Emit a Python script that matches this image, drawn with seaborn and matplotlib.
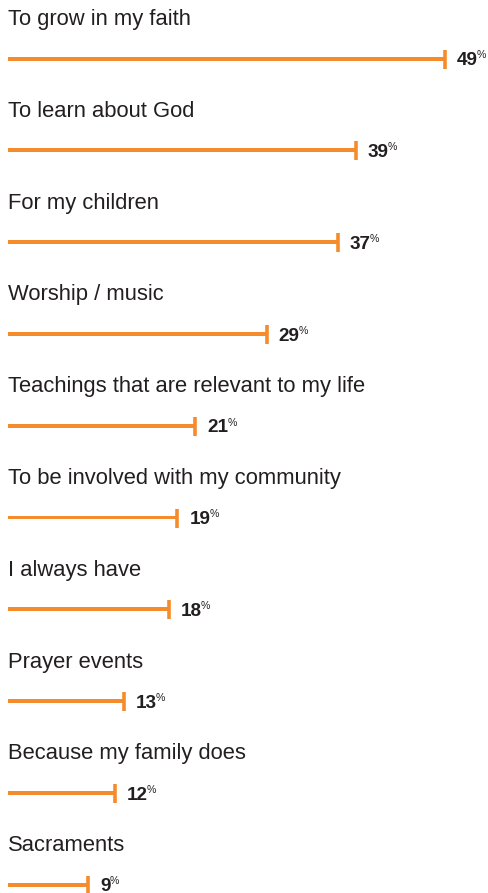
import matplotlib
matplotlib.use("Agg")
import matplotlib.pyplot as plt
import numpy as np
import pandas as pd
import seaborn as sns

reasons = [
    "To grow in my faith",
    "To learn about God",
    "For my children",
    "Worship / music",
    "Teachings that are relevant to my life",
    "To be involved with my community",
    "I always have",
    "Prayer events",
    "Because my family does",
    "Sacraments",
]
shares = [49, 39, 37, 29, 21, 19, 18, 13, 12, 9]

ORANGE = "#F68B2C"
INK = "#231F20"

df = pd.DataFrame({"reason": reasons, "share": shares, "row": np.arange(len(reasons))})

sns.set_theme(style="white")
plt.rcParams["font.family"] = ["Liberation Sans", "DejaVu Sans"]

DPI = 100
fig = plt.figure(figsize=(489 / DPI, 893 / DPI), dpi=DPI)
ax = fig.add_axes([0, 0, 1, 1])

row_px = 91.8
bar_px = 4.0

sns.barplot(
    data=df, x="share", y="reason", orient="h", ax=ax,
    color=ORANGE, saturation=1, width=bar_px / row_px,
    linewidth=0, errorbar=None,
)
# end caps on each bar
sns.scatterplot(
    data=df, x="share", y="row", ax=ax, marker="|",
    s=(19 * 72 / DPI) ** 2, linewidth=3.6 * 72 / DPI,
    color=ORANGE, legend=False, zorder=3,
)

unit_px = 8.918
ax.set_xlim(-8 / unit_px, (489 - 8) / unit_px)
ax.set_ylim((893 - 58.5) / row_px, -58.5 / row_px)
ax.set_axis_off()

for i, (name, val) in enumerate(zip(reasons, shares)):
    ax.annotate(
        name, xy=(0, i), xytext=(0, 33.5), textcoords="offset pixels",
        ha="left", va="baseline", fontsize=15.8, color=INK,
    )
    num = ax.annotate(
        f"{val}", xy=(val, i), xytext=(12, -6.8), textcoords="offset pixels",
        ha="left", va="baseline", fontsize=13.6, fontweight="bold", color=INK,
    )
    ax.annotate(
        "%", xy=(1, 1), xycoords=num, xytext=(-1, 2), textcoords="offset pixels",
        ha="left", va="top", fontsize=7.6, color=INK,
    )

fig.savefig("out.png", dpi=DPI)
